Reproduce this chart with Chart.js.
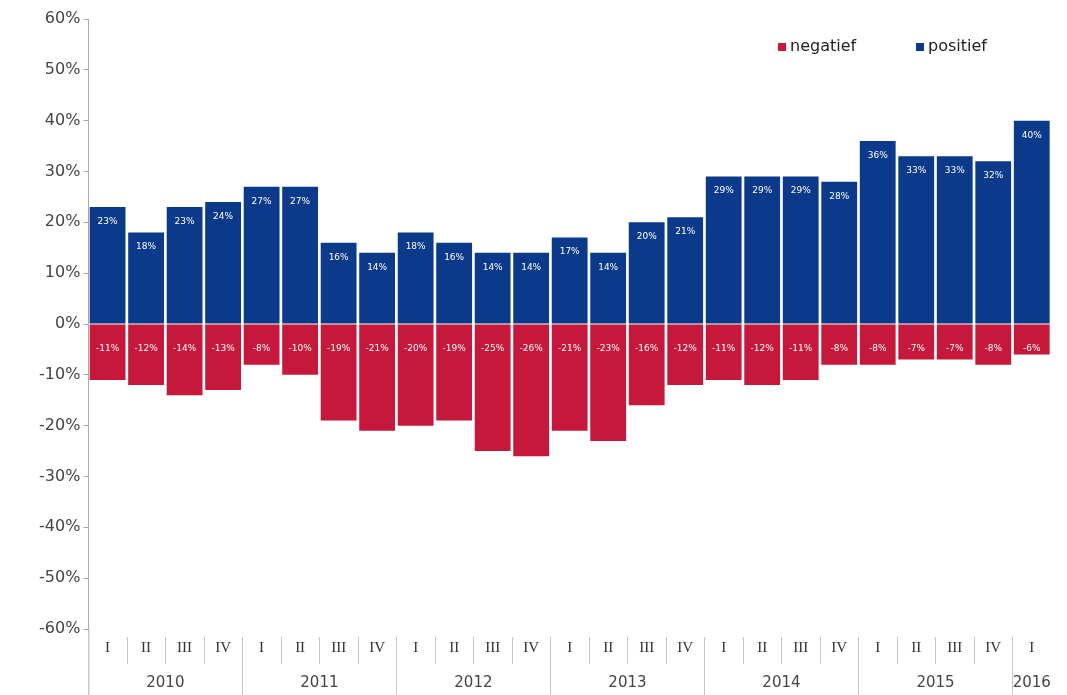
<!DOCTYPE html>
<html>
<head>
<meta charset="utf-8">
<script src="https://cdn.jsdelivr.net/npm/chart.js@4"></script>
<style>
  body { margin: 0; background: #fff; }
  #wrap { width: 1067px; height: 695px; }
</style>
</head>
<body>
<div id="wrap"><canvas id="c"></canvas></div>
<script>
const quarters = ['I','II','III','IV','I','II','III','IV','I','II','III','IV','I','II','III','IV','I','II','III','IV','I','II','III','IV','I'];
const years = ['2010','2011','2012','2013','2014','2015','2016'];
const yearSpan = [4, 4, 4, 4, 4, 4, 1];
const positief = [23,18,23,24,27,27,16,14,18,16,14,14,17,14,20,21,29,29,29,28,36,33,33,32,40];
const negatief = [-11,-12,-14,-13,-8,-10,-19,-21,-20,-19,-25,-26,-21,-23,-16,-12,-11,-12,-11,-8,-8,-7,-7,-8,-6];

const BLUE = '#0b3a8a';
const RED = '#c5183a';

// value labels, axis labels, separators and legend
const extras = {
    id: 'extras',
    afterDatasetsDraw(chart) {
        const c = chart.ctx;
        const area = chart.chartArea;
        const x = chart.scales.x;
        c.save();
        c.font = '9px Verdana, "DejaVu Sans", sans-serif';
        c.fillStyle = '#fff';
        c.textAlign = 'center';
        c.textBaseline = 'top';
        chart.data.datasets.forEach((ds, di) => {
            chart.getDatasetMeta(di).data.forEach((bar, i) => {
                const v = ds.data[i];
                const y = v >= 0 ? bar.y + 10 : bar.base + 20;
                c.fillText(v + '%', bar.x, y);
            });
        });

        // category axis
        const step = x.getPixelForValue(1) - x.getPixelForValue(0);
        c.strokeStyle = '#c8c8c8';
        c.lineWidth = 1;
        c.fillStyle = '#333';
        c.font = '15px "Liberation Serif", "DejaVu Serif", serif';
        quarters.forEach((q, i) => {
            const px = x.getPixelForValue(i);
            c.fillText(q, px, area.bottom + 12);
            if (i > 0) {
                const lx = Math.round(px - step / 2) + 0.5;
                c.beginPath();
                c.moveTo(lx, area.bottom + 8);
                c.lineTo(lx, area.bottom + 35);
                c.stroke();
            }
        });
        c.font = '15px Verdana, "DejaVu Sans", sans-serif';
        c.fillStyle = '#444';
        let idx = 0;
        years.forEach((yr, k) => {
            const left = x.getPixelForValue(idx) - step / 2;
            const right = x.getPixelForValue(idx + yearSpan[k] - 1) + step / 2;
            c.fillText(yr, (left + right) / 2, area.bottom + 47);
            if (k > 0) {
                const lx = Math.round(left) + 0.5;
                c.beginPath();
                c.moveTo(lx, area.bottom + 35);
                c.lineTo(lx, chart.height);
                c.stroke();
            }
            idx += yearSpan[k];
        });
        // y axis down to bottom
        c.strokeStyle = '#aaa';
        c.beginPath();
        c.moveTo(area.left + 0.5, area.bottom);
        c.lineTo(area.left + 0.5, chart.height);
        c.stroke();

        // legend
        c.font = '16px Verdana, "DejaVu Sans", sans-serif';
        c.textAlign = 'left';
        c.textBaseline = 'middle';
        c.fillStyle = RED;
        c.fillRect(778, 43, 8, 8);
        c.fillStyle = '#222';
        c.fillText('negatief', 790, 47);
        c.fillStyle = BLUE;
        c.fillRect(916, 43, 8, 8);
        c.fillStyle = '#222';
        c.fillText('positief', 928, 47);
        c.restore();
    }
};

new Chart(document.getElementById('c'), {
    type: 'bar',
    data: {
        labels: quarters,
        datasets: [
            { label: 'positief', data: positief, backgroundColor: BLUE, barPercentage: 0.93, categoryPercentage: 1 },
            { label: 'negatief', data: negatief, backgroundColor: RED, barPercentage: 0.93, categoryPercentage: 1 }
        ]
    },
    options: {
        responsive: true,
        maintainAspectRatio: false,
        animation: false,
        layout: { padding: { top: 19, right: 16, bottom: 58, left: 36 } },
        plugins: { legend: { display: false }, tooltip: { enabled: false } },
        scales: {
            x: {
                stacked: true,
                ticks: { display: false },
                grid: { display: false },
                border: { display: false }
            },
            y: {
                stacked: true,
                min: -60,
                max: 60,
                ticks: {
                    stepSize: 10,
                    color: '#444',
                    font: { size: 16, family: 'Verdana, "DejaVu Sans", sans-serif' },
                    callback: v => v + '%'
                },
                grid: { drawOnChartArea: false, tickLength: 5, color: '#aaa' },
                border: { color: '#aaa' }
            }
        }
    },
    plugins: [extras]
});
</script>
</body>
</html>
